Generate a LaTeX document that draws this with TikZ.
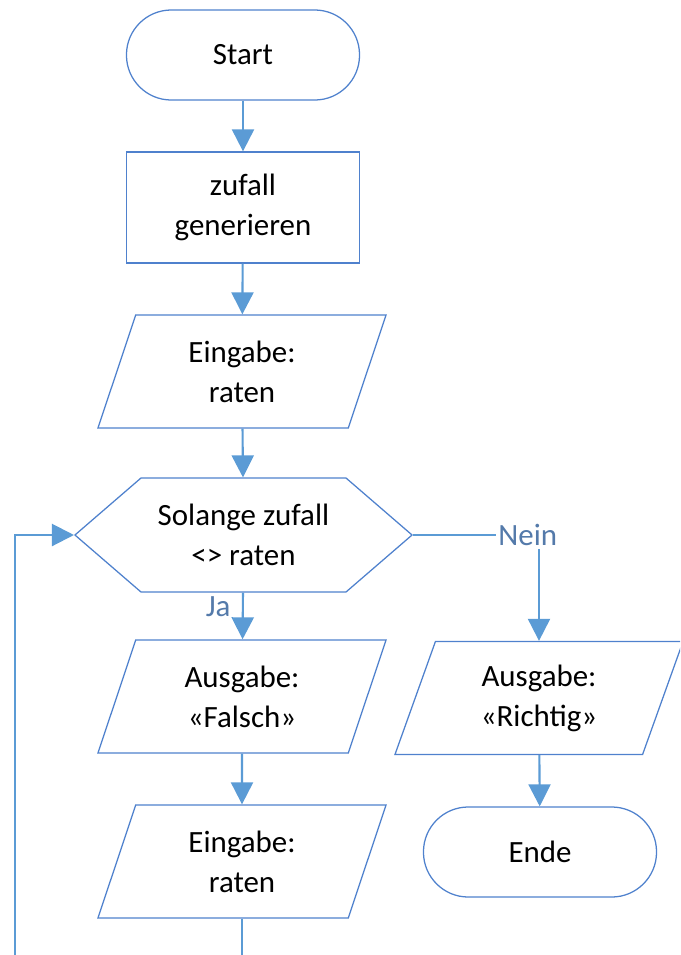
\documentclass[tikz,border=0pt]{standalone}
\usepackage{fontspec}
\setmainfont{Carlito}
\usetikzlibrary{shapes.geometric,shapes.symbols,arrows.meta}

\definecolor{rand}{RGB}{79,129,205}
\definecolor{pfeil}{RGB}{91,155,213}
\definecolor{zweig}{RGB}{84,122,170}

\begin{document}
\begin{tikzpicture}[x=0.025cm, y=-0.025cm,
    font=\fontsize{22}{28.4}\selectfont,
    terminal/.style={draw=rand, line width=0.9pt, rectangle, rounded corners=1.12cm,
      minimum width=5.825cm, minimum height=2.25cm},
    prozess/.style={draw=rand, line width=0.9pt, rectangle, align=center,
      minimum width=5.825cm, minimum height=2.775cm},
    einaus/.style={draw=rand, line width=0.9pt, trapezium, trapezium left angle=62,
      trapezium right angle=118, trapezium stretches body, align=center,
      minimum width=7.2cm, minimum height=2.825cm},
    schleife/.style={draw=rand, line width=0.9pt, signal, signal to=east and west,
      signal pointer angle=81.6, align=center,
      minimum width=8.425cm, minimum height=2.85cm},
    fluss/.style={draw=pfeil, line width=1.5pt, -{Triangle[length=0.55cm,width=0.55cm]}},
    zweigtext/.style={text=zweig, inner sep=2pt}]

    \useasboundingbox (0,0) rectangle (680,955);
    \clip (0,0) rectangle (680,955);

    \draw (243,55) node[terminal] (start) {Start};
    \draw (243,207.5) node[prozess] (zufall) {zufall\\generieren};
    \draw (242,371.5) node[einaus] (eingabe) {Eingabe:\\raten};
    \draw (243.5,535) node[schleife] (solange) {Solange zufall\\<> raten};
    \draw (242,696.5) node[einaus] (falsch) {Ausgabe:\\«Falsch»};
    \draw (242,861.5) node[einaus] (nochmal) {Eingabe:\\raten};
    \draw (539,698) node[einaus] (richtig) {Ausgabe:\\«Richtig»};
    \draw (540,852) node[terminal] (ende) {Ende};

    \coordinate (zurueck) at (15,985);

    \draw[fluss] (start) -- (zufall);
    \draw[fluss] (zufall) -- (eingabe);
    \draw[fluss] (eingabe) -- (solange);
    \draw[fluss] (solange) -- node[zweigtext, pos=0.3, left=6pt] {Ja} (falsch);
    \draw[fluss] (solange.east) -| node[zweigtext, fill=white, pos=0.5, xshift=-0.28cm] {Nein} (richtig.north);
    \draw[fluss] (falsch) -- (nochmal);
    \draw[fluss] (richtig) -- (ende);
    \draw[fluss] (nochmal.south) |- (zurueck) |- (solange.west);
\end{tikzpicture}
\end{document}
